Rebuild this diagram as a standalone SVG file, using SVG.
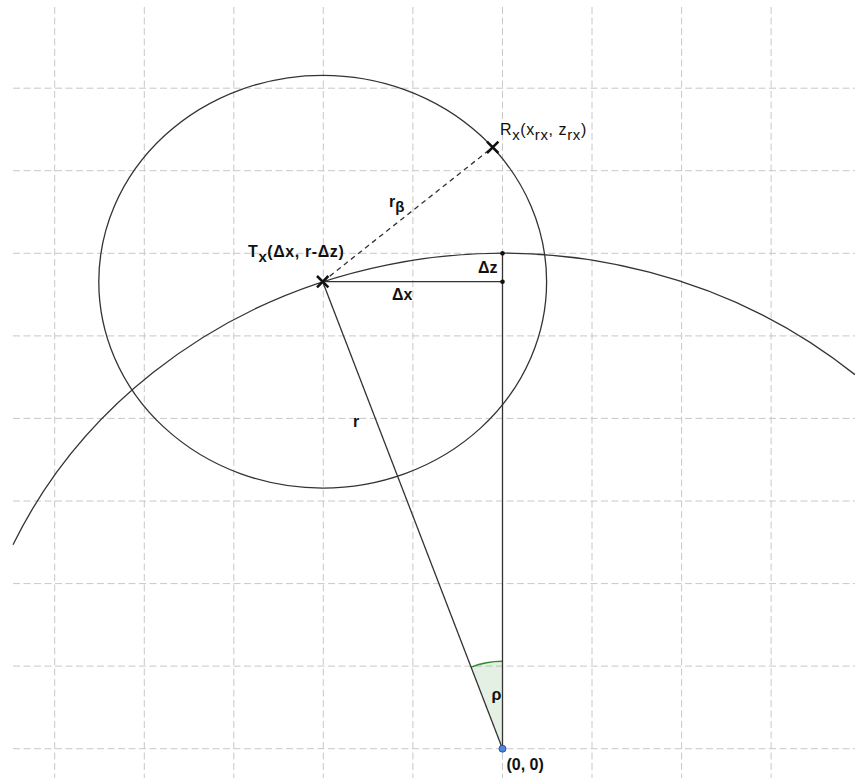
<svg xmlns="http://www.w3.org/2000/svg" width="855" height="778" viewBox="0 0 855 778">
<style>
.grid line{stroke:#c8c8c8;stroke-width:1;stroke-dasharray:7 3.5}
.crv{fill:none;stroke:#333;stroke-width:1.3}
.ln{stroke:#333;stroke-width:1.3;fill:none}
.dsh{stroke:#333;stroke-width:1.3;stroke-dasharray:5 4}
.cross{stroke:#111;stroke-width:2.5}
.lbl{font-family:"Liberation Sans",Arial,sans-serif;font-size:16px;fill:#111}
.b{font-weight:bold}
.sub{font-size:15px}
</style>
<rect width="855" height="778" fill="#fff"/>
<g class="grid">
<line x1="54.7" y1="7" x2="54.7" y2="778"/>
<line x1="144.3" y1="7" x2="144.3" y2="778"/>
<line x1="233.8" y1="7" x2="233.8" y2="778"/>
<line x1="323.3" y1="7" x2="323.3" y2="778"/>
<line x1="412.9" y1="7" x2="412.9" y2="778"/>
<line x1="502.5" y1="7" x2="502.5" y2="778"/>
<line x1="592" y1="7" x2="592" y2="778"/>
<line x1="681.6" y1="7" x2="681.6" y2="778"/>
<line x1="771.1" y1="7" x2="771.1" y2="778"/>
<line x1="13" y1="88.2" x2="855" y2="88.2"/>
<line x1="13" y1="170.7" x2="855" y2="170.7"/>
<line x1="13" y1="253.3" x2="855" y2="253.3"/>
<line x1="13" y1="335.9" x2="855" y2="335.9"/>
<line x1="13" y1="418.4" x2="855" y2="418.4"/>
<line x1="13" y1="501" x2="855" y2="501"/>
<line x1="13" y1="583.6" x2="855" y2="583.6"/>
<line x1="13" y1="666.1" x2="855" y2="666.1"/>
<line x1="13" y1="748.7" x2="855" y2="748.7"/>
</g>
<g id="angle-rho">
<path d="M502.5 748.7 L471 667.1 A87.5 87.5 0 0 1 502.5 661.2 Z" fill="#2e8b2e" fill-opacity="0.13"/>
<path d="M471 667.1 A87.5 87.5 0 0 1 502.5 661.2" fill="none" stroke="#2e8b2e" stroke-width="1.5"/>
</g>
<g id="connectors">
<path class="crv" d="M13 544.8 A537.3 495.4 0 0 1 855 374.7"/>
<ellipse class="crv" cx="322.7" cy="281.7" rx="223.9" ry="206.4"/>
<line class="ln" x1="322.7" y1="281.7" x2="502.5" y2="748.7"/>
<line class="ln" x1="502.5" y1="253.3" x2="502.5" y2="748.7"/>
<line class="ln" x1="322.7" y1="281.7" x2="502.5" y2="281.7"/>
<line class="dsh" x1="322.7" y1="281.7" x2="492.7" y2="147.3"/>
</g>
<g id="node-Tx">
<path class="cross" d="M317 276 L328.4 287.4 M317 287.4 L328.4 276"/>
<text class="lbl b" x="248" y="257" letter-spacing="0.6">T<tspan class="sub" dy="5">x</tspan><tspan dy="-5">(Δx, r-Δz)</tspan></text>
</g>
<g id="node-Rx">
<path class="cross" d="M487 141.6 L498.4 153 M487 153 L498.4 141.6"/>
<text class="lbl" x="500" y="134.5" letter-spacing="0.6">R<tspan class="sub" dy="5">x</tspan><tspan dy="-5">(x</tspan><tspan class="sub" dy="5">rx</tspan><tspan dy="-5">, z</tspan><tspan class="sub" dy="5">rx</tspan><tspan dy="-5">)</tspan></text>
</g>
<g id="node-dz-points">
<circle cx="502.5" cy="253.3" r="2.3" fill="#111"/>
<circle cx="502.5" cy="281.7" r="2.3" fill="#111"/>
</g>
<g id="node-origin">
<circle cx="502.5" cy="748.7" r="3.5" fill="#4f86e0" stroke="#1a3d8a" stroke-width="0.8"/>
<text class="lbl b" x="506.5" y="770">(0, 0)</text>
</g>
<g id="labels">
<text class="lbl b" x="389" y="206.7">r<tspan class="sub" dy="5">β</tspan></text>
<text class="lbl b" x="392" y="300">Δx</text>
<text class="lbl b" x="478" y="272.7">Δz</text>
<text class="lbl b" x="353" y="426.7">r</text>
<text class="lbl b" x="491.5" y="700">ρ</text>
</g>
</svg>
